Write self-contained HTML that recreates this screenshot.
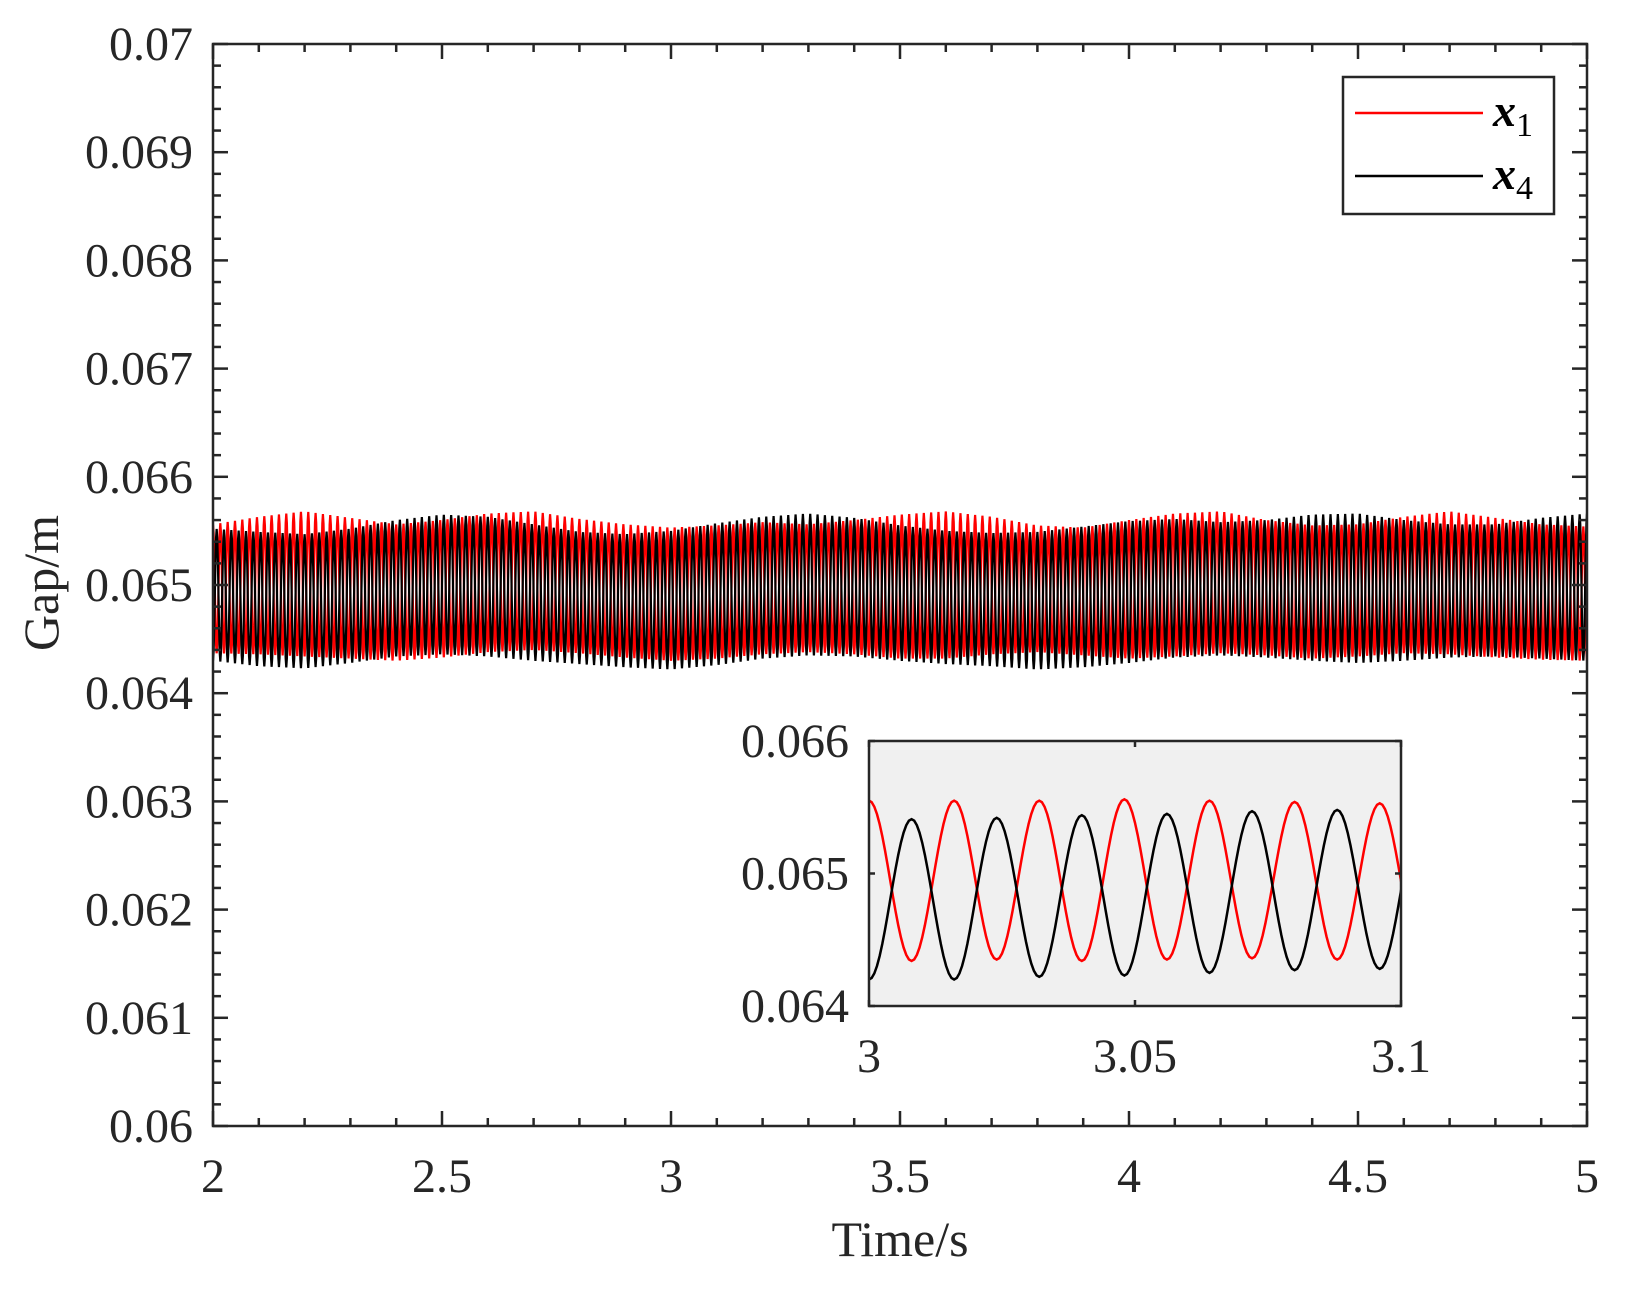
<!DOCTYPE html>
<html><head><meta charset="utf-8"><style>
html,body{margin:0;padding:0;background:#fff;}
svg text{font-family:"Liberation Serif",serif;fill:#262626;}
</style></head><body>
<svg id="chart" width="1633" height="1294" viewBox="0 0 1633 1294" xmlns="http://www.w3.org/2000/svg">
<rect x="0" y="0" width="1633" height="1294" fill="#fff"/>
<g id="main"></g>
<g id="inset"></g>
<g id="legend">
  <rect x="1343" y="77" width="211" height="137" fill="#fff" stroke="#262626" stroke-width="2.5"/>
  <line x1="1355" y1="113" x2="1483" y2="113" stroke="#ff0000" stroke-width="2.5"/>
  <text x="1493" y="126" font-size="46" font-style="italic" font-weight="bold" style="fill:#000">x<tspan font-size="34" font-style="normal" font-weight="normal" dy="10">1</tspan></text>
  <line x1="1355" y1="176" x2="1483" y2="176" stroke="#000" stroke-width="2.5"/>
  <text x="1493" y="189" font-size="46" font-style="italic" font-weight="bold" style="fill:#000">x<tspan font-size="34" font-style="normal" font-weight="normal" dy="10">4</tspan></text>
</g>
<text x="900" y="1256" font-size="50" text-anchor="middle">Time/s</text>
<text x="0" y="0" font-size="50" text-anchor="middle" transform="translate(58,583) rotate(-90)">Gap/m</text>
</svg>
<script>
// Main chart data (envelope of oscillation, sampled every 0.1 s from t=2.0 to 5.0)
const envTimes = [2.0,2.1,2.2,2.3,2.4,2.5,2.6,2.7,2.8,2.9,3.0,3.1,3.2,3.3,3.4,3.5,3.6,3.7,3.8,3.9,4.0,4.1,4.2,4.3,4.4,4.5,4.6,4.7,4.8,4.9,5.0];
const x1Upper = [0.06556,0.06563,0.06568,0.06562,0.06556,0.06560,0.06566,0.06568,0.06561,0.06556,0.06553,0.06555,0.06558,0.06556,0.06560,0.06565,0.06568,0.06563,0.06555,0.06553,0.06560,0.06566,0.06568,0.06560,0.06555,0.06556,0.06563,0.06568,0.06562,0.06556,0.06554];
const x1Lower = [0.06437,0.06436,0.06434,0.06432,0.06430,0.06433,0.06438,0.06440,0.06437,0.06433,0.06430,0.06432,0.06436,0.06438,0.06436,0.06432,0.06432,0.06436,0.06438,0.06435,0.06432,0.06434,0.06437,0.06435,0.06432,0.06434,0.06437,0.06436,0.06433,0.06431,0.06430];
const x4Upper = [0.06552,0.06549,0.06547,0.06552,0.06560,0.06565,0.06563,0.06556,0.06549,0.06547,0.06550,0.06557,0.06563,0.06566,0.06562,0.06555,0.06550,0.06548,0.06549,0.06554,0.06559,0.06561,0.06558,0.06560,0.06565,0.06566,0.06560,0.06556,0.06556,0.06562,0.06566];
const x4Lower = [0.06430,0.06425,0.06423,0.06428,0.06434,0.06436,0.06434,0.06430,0.06427,0.06424,0.06422,0.06426,0.06432,0.06435,0.06434,0.06430,0.06427,0.06425,0.06422,0.06424,0.06428,0.06433,0.06435,0.06433,0.06430,0.06428,0.06430,0.06433,0.06434,0.06432,0.06430];
const halfPeriod = 0.008;
const xTickLabels = ["2","2.5","3","3.5","4","4.5","5"];
const xTickValues = [2,2.5,3,3.5,4,4.5,5];
const yTickLabels = ["0.06","0.061","0.062","0.063","0.064","0.065","0.066","0.067","0.068","0.069","0.07"];
const yTickValues = [0.06,0.061,0.062,0.063,0.064,0.065,0.066,0.067,0.068,0.069,0.07];
// Inset data: successive extrema (every half period) from t=3.0
const insetX1Extrema = [0.06555,0.06434,0.06555,0.06435,0.06555,0.06434,0.06556,0.06435,0.06555,0.06436,0.06554,0.06435,0.06553,0.06436];
const insetX4Extrema = [0.06420,0.06541,0.06420,0.06542,0.06422,0.06544,0.06423,0.06545,0.06425,0.06547,0.06427,0.06548,0.06428,0.06546];
const insetXTickLabels = ["3","3.05","3.1"];
const insetXTickValues = [3,3.05,3.1];
const insetYTickLabels = ["0.064","0.065","0.066"];
const insetYTickValues = [0.064,0.065,0.066];

const NS="http://www.w3.org/2000/svg";
function mk(tag,attrs,parent){const e=document.createElementNS(NS,tag);for(const k in attrs)e.setAttribute(k,attrs[k]);parent.appendChild(e);return e;}

const L=213,R=1587,T=44,B=1126;
const xs=t=>L+(t-2)/3*(R-L);
const ys=v=>B-(v-0.06)/0.01*(B-T);
function interp(arr,t){
  const i=Math.max(0,Math.min(Math.floor((t-2)/0.1),envTimes.length-2));
  const f=(t-envTimes[i])/(envTimes[i+1]-envTimes[i]);
  return arr[i]+(arr[i+1]-arr[i])*f;
}
function wavePath(sx,sy,t0,n,getExt,steps){
  let d="";let prev=null;
  for(let k=0;k<=n;k++){
    const tk=t0+k*halfPeriod;
    const v=getExt(k,tk);
    if(prev===null){d+="M"+sx(tk).toFixed(2)+","+sy(v).toFixed(2);}
    else{
      for(let s=1;s<=steps;s++){
        const f=s/steps;const w=(1-Math.cos(Math.PI*f))/2;
        const tt=prev.t+(tk-prev.t)*f;
        const vv=prev.v+(v-prev.v)*w;
        d+="L"+sx(tt).toFixed(2)+","+sy(vv).toFixed(2);
      }
    }
    prev={t:tk,v:v};
  }
  return d;
}
const main=document.getElementById('main');
const clip=mk('clipPath',{id:'mainclip'},main);mk('rect',{x:L,y:T,width:R-L,height:B-T},clip);
const gS=mk('g',{'clip-path':'url(#mainclip)'},main);
const nMain=Math.round(3/halfPeriod);
const p1=mk('path',{d:wavePath(xs,ys,2,nMain,(k,t)=>(k%2===0?interp(x1Upper,t):interp(x1Lower,t)),6),fill:'none',stroke:'#ff0000','stroke-width':2.2},gS);


const p4=mk('path',{d:wavePath(xs,ys,2,nMain,(k,t)=>(k%2===0?interp(x4Lower,t):interp(x4Upper,t)),6),fill:'none',stroke:'#000','stroke-width':2.2},gS);


const frame=mk('rect',{x:L,y:T,width:R-L,height:B-T,fill:'none',stroke:'#262626','stroke-width':2.5},main);


for(let i=0;i<=30;i++){const t=2+i*0.1;const x=xs(t);const len=(i%5===0)?15:8;
  mk('line',{x1:x,y1:B,x2:x,y2:B-len,stroke:'#262626','stroke-width':2.5},main);
  mk('line',{x1:x,y1:T,x2:x,y2:T+len,stroke:'#262626','stroke-width':2.5},main);}
for(let i=0;i<=50;i++){const v=0.06+i*0.0002;const y=ys(v);const len=(i%5===0)?15:8;
  mk('line',{x1:L,y1:y,x2:L+len,y2:y,stroke:'#262626','stroke-width':2.5},main);
  mk('line',{x1:R,y1:y,x2:R-len,y2:y,stroke:'#262626','stroke-width':2.5},main);}
xTickLabels.forEach((lab,i)=>{const tx=mk('text',{x:xs(xTickValues[i]),y:1192,'font-size':48,'text-anchor':'middle'},main);tx.textContent=lab;
  
  });
yTickLabels.forEach((lab,i)=>{const tx=mk('text',{x:193,y:ys(yTickValues[i])+16,'font-size':48,'text-anchor':'end'},main);tx.textContent=lab;
  
  });

// inset
const IL=869,IR=1401,IT=741,IB=1006;
const ixs=t=>IL+(t-3)/0.1*(IR-IL);
const iys=v=>IB-(v-0.064)/0.002*(IB-IT);
const inset=document.getElementById('inset');
const ibg=mk('rect',{x:IL,y:IT,width:IR-IL,height:IB-IT,fill:'#f0f0f0'},inset);


const iclip=mk('clipPath',{id:'insetclip'},inset);mk('rect',{x:IL,y:IT,width:IR-IL,height:IB-IT},iclip);
const ig=mk('g',{'clip-path':'url(#insetclip)'},inset);
const ip1=mk('path',{d:wavePath(ixs,iys,3,insetX1Extrema.length-1,(k)=>insetX1Extrema[k],16),fill:'none',stroke:'#ff0000','stroke-width':2.5},ig);


const ip4=mk('path',{d:wavePath(ixs,iys,3,insetX4Extrema.length-1,(k)=>insetX4Extrema[k],16),fill:'none',stroke:'#000','stroke-width':2.5},ig);


const iframe=mk('rect',{x:IL,y:IT,width:IR-IL,height:IB-IT,fill:'none',stroke:'#262626','stroke-width':2.5},inset);


insetXTickValues.forEach(t=>{const x=ixs(t);mk('line',{x1:x,y1:IB,x2:x,y2:IB-6,stroke:'#262626','stroke-width':2.5},inset);mk('line',{x1:x,y1:IT,x2:x,y2:IT+6,stroke:'#262626','stroke-width':2.5},inset);});
insetYTickValues.forEach(v=>{const y=iys(v);mk('line',{x1:IL,y1:y,x2:IL+6,y2:y,stroke:'#262626','stroke-width':2.5},inset);mk('line',{x1:IR,y1:y,x2:IR-6,y2:y,stroke:'#262626','stroke-width':2.5},inset);});
insetXTickLabels.forEach((lab,i)=>{const tx=mk('text',{x:ixs(insetXTickValues[i]),y:1072,'font-size':48,'text-anchor':'middle'},inset);tx.textContent=lab;
  
  });
insetYTickLabels.forEach((lab,i)=>{const tx=mk('text',{x:849,y:iys(insetYTickValues[i])+16,'font-size':48,'text-anchor':'end'},inset);tx.textContent=lab;
  
  });
</script>
</body></html>
